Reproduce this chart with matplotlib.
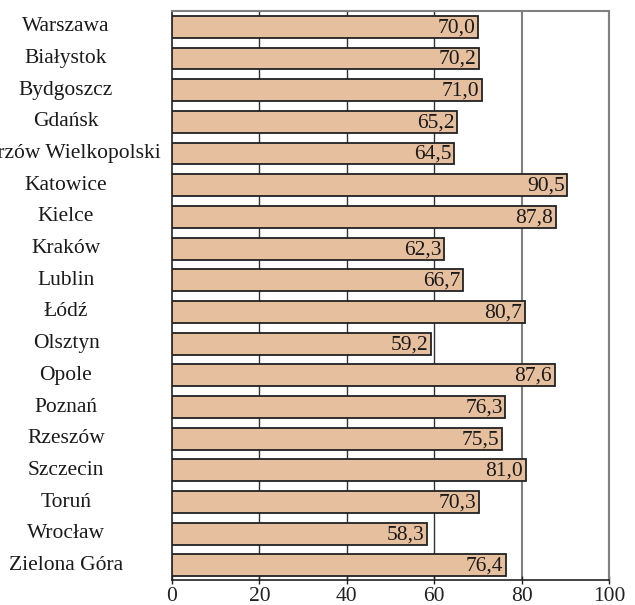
import matplotlib
matplotlib.use("Agg")
import matplotlib.pyplot as plt
from matplotlib import transforms

cities = ["Warszawa", "Białystok", "Bydgoszcz", "Gdańsk", "Gorzów Wielkopolski",
          "Katowice", "Kielce", "Kraków", "Lublin", "Łódź", "Olsztyn", "Opole",
          "Poznań", "Rzeszów", "Szczecin", "Toruń", "Wrocław", "Zielona Góra"]
values = [70.0, 70.2, 71.0, 65.2, 64.5, 90.5, 87.8, 62.3, 66.7, 80.7, 59.2,
          87.6, 76.3, 75.5, 81.0, 70.3, 58.3, 76.4]
xticks = [0, 20, 40, 60, 80, 100]

plt.rcParams["font.family"] = ["Liberation Serif", "DejaVu Serif"]
FS = 15.5
TXT = "#1a1a1a"

fig = plt.figure(figsize=(6.35, 6.05), dpi=100)
ax = fig.add_axes([172 / 635, 25 / 605, 437 / 635, 569 / 605])

n = len(cities)
ypos = list(range(n))
ax.barh(ypos, values, height=0.69, color="#e6bf9f", edgecolor="#222222",
        linewidth=1.3, zorder=3)

for y, v in zip(ypos, values):
    ax.text(v - 0.6, y + 0.03, f"{v:.1f}".replace(".", ","), ha="right",
            va="center", fontsize=FS, color=TXT, zorder=4)

# vertical grid: darker for the lower values, grey for the upper ones
for x in xticks[1:]:
    c = "#333333" if x <= 60 else "#808080"
    lw = 1.0 if x <= 60 else 1.5
    ax.axvline(x, color=c, linewidth=lw, zorder=1)

ax.set_xlim(0, 100)
ax.set_ylim(n - 0.54, -0.5)
ax.set_xticks(xticks)
ax.set_xticklabels([str(t) for t in xticks], fontsize=FS, color=TXT)
ax.tick_params(axis="x", direction="inout", length=6, width=1, pad=2,
               colors="#222222")
ax.set_yticks([])

# city names centred in the left margin
trans = transforms.blended_transform_factory(fig.transFigure, ax.transData)
for y, c in zip(ypos, cities):
    ax.text(66 / 635, y, c, transform=trans, ha="center", va="center",
            fontsize=FS, color=TXT, clip_on=False)

ax.spines["left"].set_color("#222222")
ax.spines["bottom"].set_color("#222222")
ax.spines["left"].set_linewidth(1.2)
ax.spines["bottom"].set_linewidth(1.2)
ax.spines["top"].set_color("#808080")
ax.spines["top"].set_linewidth(1.5)
ax.spines["right"].set_color("#808080")
ax.spines["right"].set_linewidth(1.5)

fig.savefig("out.png", dpi=100)
